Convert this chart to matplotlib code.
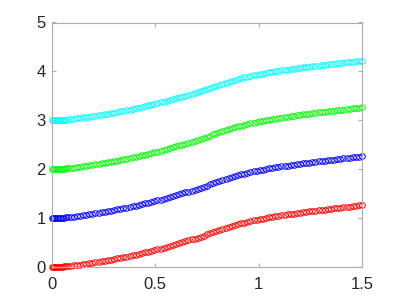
import matplotlib
matplotlib.use("Agg")
import matplotlib.pyplot as plt

x_vals = [0.000, 0.005, 0.010, 0.015, 0.0225, 0.030, 0.0375, 0.045, 0.0525, 0.060, 0.0675, 0.075,
          0.090, 0.105, 0.120, 0.135, 0.150, 0.165, 0.180, 0.195, 0.210, 0.225, 0.240, 0.255, 0.270, 0.285,
          0.300, 0.315, 0.330, 0.345, 0.360, 0.375, 0.390, 0.405, 0.420, 0.435, 0.450, 0.465, 0.480, 0.495,
          0.510, 0.525, 0.540, 0.555, 0.570, 0.585, 0.600, 0.615, 0.630, 0.645, 0.660, 0.675, 0.690, 0.705,
          0.720, 0.735, 0.750, 0.765, 0.780, 0.795, 0.810, 0.825, 0.840, 0.855, 0.870, 0.885, 0.900, 0.915,
          0.930, 0.945, 0.960, 0.975, 0.990, 1.005, 1.020, 1.035, 1.050, 1.065, 1.080, 1.095, 1.110, 1.125,
          1.140, 1.155, 1.170, 1.185, 1.200, 1.215, 1.230, 1.245, 1.260, 1.275, 1.290, 1.305, 1.320, 1.335,
          1.350, 1.365, 1.380, 1.395, 1.410, 1.425, 1.440, 1.455, 1.470, 1.485, 1.500]

red_y = [0.000, 0.000, 0.001, 0.001, 0.003, 0.004, 0.005, 0.007, 0.010, 0.012, 0.015, 0.018,
         0.024, 0.032, 0.040, 0.050, 0.060, 0.069, 0.078, 0.087, 0.097, 0.108, 0.118, 0.129, 0.141, 0.153,
         0.165, 0.177, 0.189, 0.201, 0.214, 0.228, 0.241, 0.255, 0.270, 0.285, 0.300, 0.315, 0.330, 0.345,
         0.361, 0.378, 0.394, 0.411, 0.429, 0.447, 0.465, 0.485, 0.504, 0.524, 0.543, 0.563, 0.582, 0.602,
         0.623, 0.644, 0.666, 0.688, 0.710, 0.733, 0.754, 0.775, 0.796, 0.816, 0.837, 0.856, 0.875, 0.892,
         0.909, 0.925, 0.940, 0.954, 0.967, 0.979, 0.991, 1.003, 1.015, 1.026, 1.036, 1.047, 1.056, 1.065,
         1.074, 1.083, 1.092, 1.101, 1.110, 1.119, 1.128, 1.137, 1.145, 1.153, 1.160, 1.168, 1.175, 1.183,
         1.190, 1.198, 1.205, 1.213, 1.220, 1.228, 1.235, 1.243, 1.250, 1.258, 1.268]

blue_y = [1.000, 1.000, 1.001, 1.001, 1.003, 1.004, 1.005, 1.007, 1.010, 1.012, 1.015, 1.018,
          1.024, 1.032, 1.040, 1.050, 1.060, 1.069, 1.078, 1.087, 1.097, 1.108, 1.118, 1.129, 1.141, 1.153,
          1.165, 1.177, 1.189, 1.201, 1.214, 1.228, 1.241, 1.255, 1.270, 1.285, 1.300, 1.315, 1.330, 1.345,
          1.361, 1.378, 1.394, 1.411, 1.429, 1.447, 1.465, 1.485, 1.504, 1.524, 1.543, 1.563, 1.582, 1.602,
          1.623, 1.644, 1.666, 1.688, 1.710, 1.733, 1.754, 1.775, 1.796, 1.816, 1.837, 1.856, 1.875, 1.892,
          1.909, 1.925, 1.940, 1.954, 1.967, 1.979, 1.991, 2.003, 2.015, 2.026, 2.036, 2.047, 2.056, 2.065,
          2.074, 2.083, 2.092, 2.101, 2.110, 2.119, 2.128, 2.137, 2.145, 2.153, 2.160, 2.168, 2.175, 2.183,
          2.190, 2.198, 2.205, 2.213, 2.220, 2.228, 2.235, 2.243, 2.250, 2.258, 2.265]

green_y = [2.000, 2.000, 2.001, 2.001, 2.003, 2.004, 2.005, 2.007, 2.010, 2.012, 2.015, 2.018,
           2.024, 2.032, 2.040, 2.050, 2.060, 2.069, 2.078, 2.087, 2.097, 2.108, 2.118, 2.129, 2.141, 2.153,
           2.165, 2.177, 2.189, 2.201, 2.214, 2.228, 2.241, 2.255, 2.270, 2.285, 2.300, 2.315, 2.330, 2.345,
           2.361, 2.378, 2.394, 2.411, 2.429, 2.447, 2.465, 2.485, 2.504, 2.524, 2.543, 2.563, 2.582, 2.602,
           2.623, 2.644, 2.666, 2.688, 2.710, 2.733, 2.754, 2.775, 2.796, 2.816, 2.837, 2.856, 2.875, 2.892,
           2.909, 2.925, 2.940, 2.954, 2.967, 2.979, 2.991, 3.003, 3.015, 3.026, 3.036, 3.047, 3.056, 3.065,
           3.074, 3.083, 3.092, 3.101, 3.110, 3.119, 3.128, 3.137, 3.145, 3.153, 3.160, 3.168, 3.175, 3.183,
           3.190, 3.198, 3.205, 3.213, 3.220, 3.228, 3.235, 3.243, 3.250, 3.258, 3.265]

cyan_y = [3.000, 3.000, 3.001, 3.001, 3.003, 3.004, 3.005, 3.007, 3.010, 3.012, 3.014, 3.017,
          3.023, 3.031, 3.039, 3.048, 3.058, 3.067, 3.075, 3.084, 3.094, 3.104, 3.114, 3.124, 3.136, 3.148,
          3.159, 3.171, 3.182, 3.194, 3.207, 3.220, 3.233, 3.246, 3.261, 3.275, 3.290, 3.304, 3.318, 3.333,
          3.348, 3.365, 3.380, 3.397, 3.414, 3.431, 3.449, 3.468, 3.486, 3.506, 3.524, 3.543, 3.562, 3.581,
          3.601, 3.621, 3.643, 3.664, 3.685, 3.707, 3.728, 3.748, 3.768, 3.787, 3.808, 3.826, 3.844, 3.861,
          3.877, 3.893, 3.907, 3.921, 3.933, 3.945, 3.956, 3.968, 3.979, 3.990, 4.000, 4.010, 4.019, 4.028,
          4.036, 4.045, 4.054, 4.062, 4.071, 4.080, 4.089, 4.097, 4.105, 4.113, 4.119, 4.127, 4.134, 4.142,
          4.148, 4.156, 4.163, 4.171, 4.177, 4.185, 4.192, 4.199, 4.206, 4.214, 4.221]

series_colors = [(1, 0, 0), (0, 0, 1), (0, 1, 0), (0, 1, 1)]
series_values = [red_y, blue_y, green_y, cyan_y]

x_ticks = [0, 0.5, 1, 1.5]
x_tick_labels = ["0", "0.5", "1", "1.5"]
y_ticks = [0, 1, 2, 3, 4, 5]
y_tick_labels = ["0", "1", "2", "3", "4", "5"]

plt.rcParams['font.family'] = ['Liberation Sans', 'DejaVu Sans']

fig = plt.figure(figsize=(4, 3), dpi=100)
ax = fig.add_axes([0.13, 0.11, 0.775, 0.815])

for ys, col in zip(series_values, series_colors):
    ax.plot(x_vals, ys, linestyle='none', marker='o', markersize=4.0,
            markerfacecolor='none', markeredgecolor=col, markeredgewidth=0.7, clip_on=False)

ax.set_xlim(0, 1.5)
ax.set_ylim(0, 5)
ax.set_xticks(x_ticks)
ax.set_xticklabels(x_tick_labels)
ax.set_yticks(y_ticks)
ax.set_yticklabels(y_tick_labels)

axis_gray = (0.68, 0.68, 0.68)
for sp in ax.spines.values():
    sp.set_color(axis_gray)
    sp.set_linewidth(0.8)
ax.tick_params(direction='in', length=3, width=0.8, color=axis_gray,
               labelsize=12, labelcolor=(0.15, 0.15, 0.15),
               top=True, right=True)
ax.tick_params(axis='x', pad=7)
ax.tick_params(axis='y', pad=4.5)

fig.savefig("out.png", dpi=100)
